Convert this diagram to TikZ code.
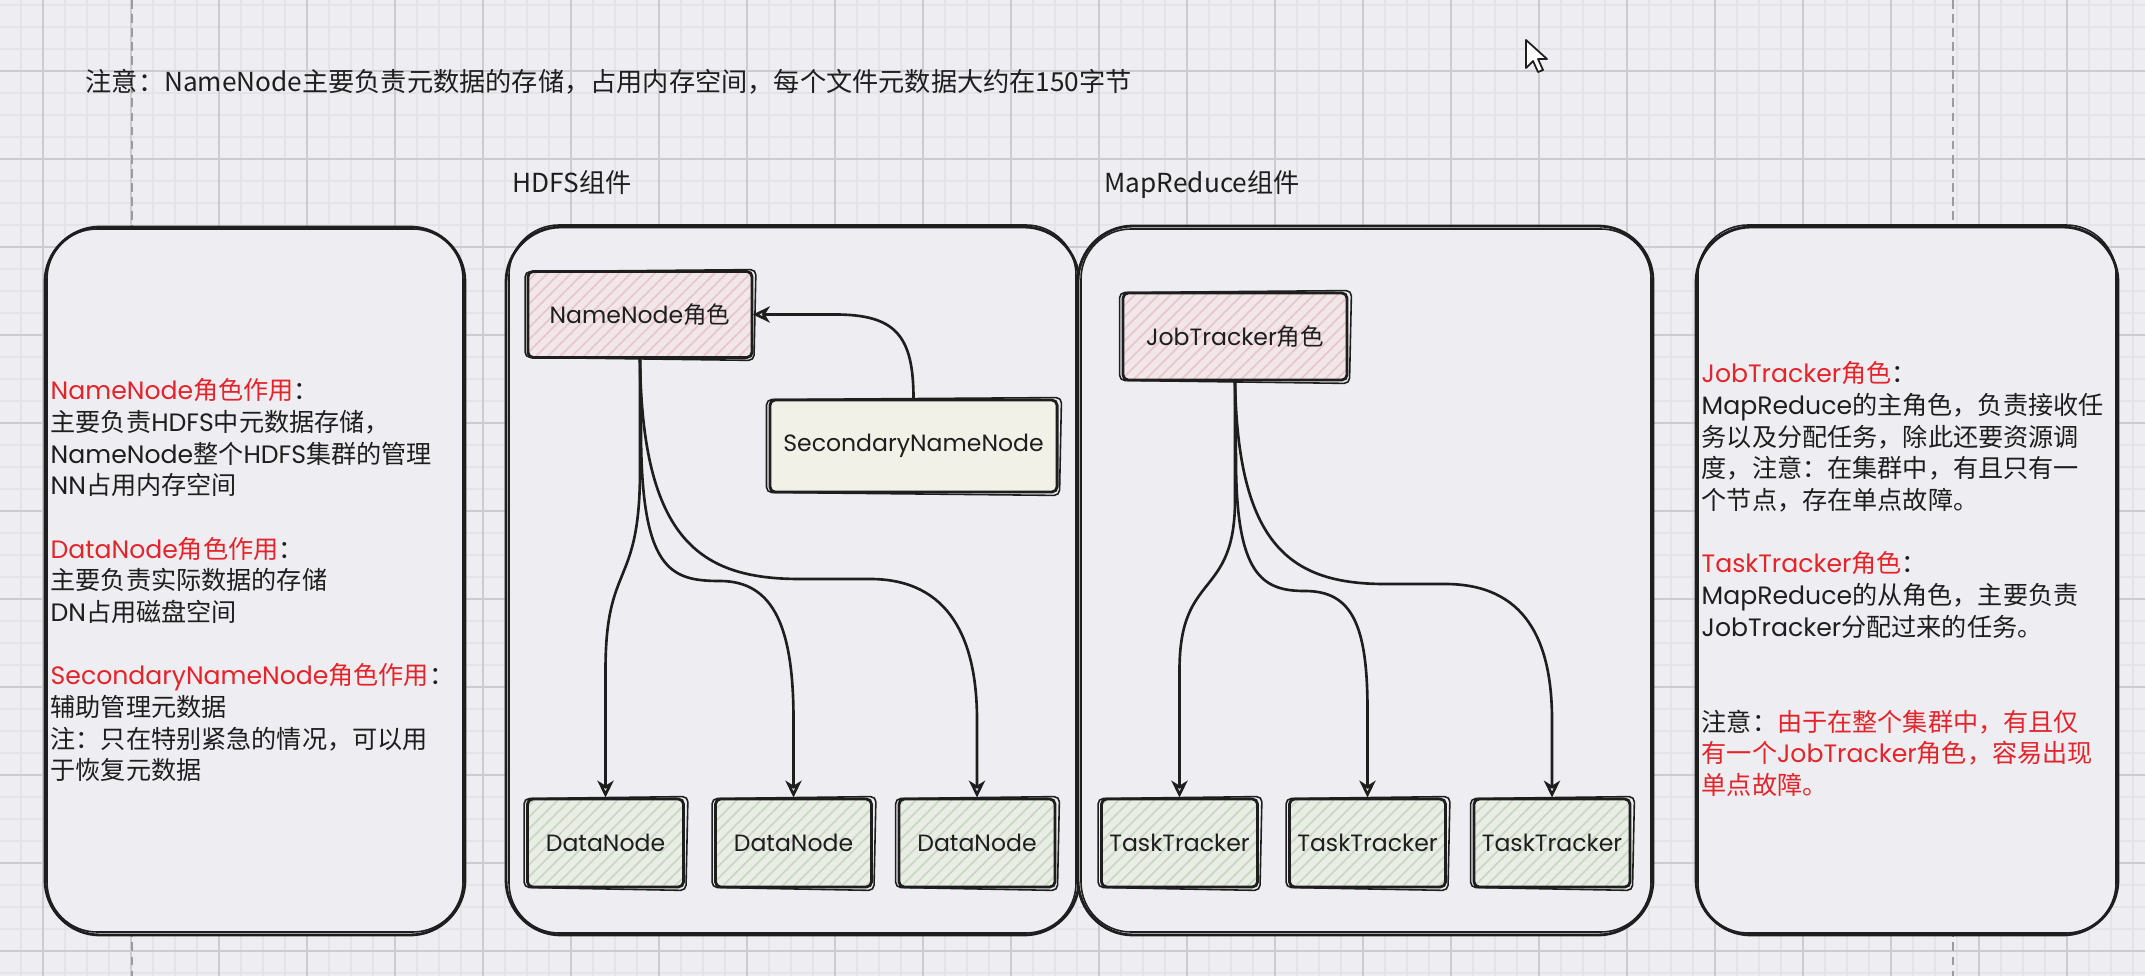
\documentclass[tikz,border=0pt]{standalone}
\usepackage{fontspec}
\setmainfont{Noto Sans CJK SC}
\newfontfamily\pop{Poppins}
\newfontfamily\cjk{Noto Sans CJK SC}
\usetikzlibrary{arrows.meta,patterns.meta,calc}
\definecolor{bg}{HTML}{EEEDF1}
\definecolor{gridminor}{HTML}{E4E3E7}
\definecolor{gridmajor}{HTML}{CCCBD0}
\definecolor{pagedash}{HTML}{9C9BA0}
\definecolor{ink}{HTML}{1E1E1E}
\definecolor{redtxt}{HTML}{E3252B}
\definecolor{redbase}{HTML}{F1E7EA}
\definecolor{redhatch}{HTML}{E9C6CA}
\definecolor{grnbase}{HTML}{E9EDE6}
\definecolor{grnhatch}{HTML}{C7D9C1}
\definecolor{yelbase}{HTML}{F1F1E8}
\newcommand\la[1]{{\pop #1}}
\newcommand\rd[1]{{\color{redtxt}#1}}
\newcommand\sketchbox[1]{\draw[line width=0.45pt, ink, rounded corners=1.5pt]
  ($(#1.north west)+(-2,1)$) -- ($(#1.north east)+(3,-1)$) -- ($(#1.south east)+(1,2)$) -- ($(#1.south west)+(-2,-1)$) -- cycle;}
\begin{document}
\begin{tikzpicture}[x=0.01cm, y=-0.01cm,
  panel/.style={draw=ink, line width=0.8pt, fill=bg, rounded corners=0.55cm},
  panel2/.style={draw=ink, line width=0.45pt, rounded corners=0.5cm},
  basebox/.style={draw=ink, line width=0.8pt, rounded corners=1.5pt, inner sep=0pt,
    font=\fontsize{6.7pt}{8pt}\pop, text=ink},
  redbox/.style={basebox, preaction={fill=redbase}, pattern={Lines[angle=45,distance=2.4pt,line width=0.5pt]}, pattern color=redhatch},
  grnbox/.style={basebox, preaction={fill=grnbase}, pattern={Lines[angle=45,distance=2.4pt,line width=0.5pt]}, pattern color=grnhatch, minimum width=1.56cm, minimum height=0.88cm},
  yelbox/.style={basebox, fill=yelbase},
  ptxt/.style={anchor=north west, inner sep=0pt, align=left, text=ink, font=\fontsize{7.15pt}{9pt}\selectfont},
  head/.style={anchor=base west, inner sep=0pt, text=ink, font=\fontsize{7.45pt}{9pt}\selectfont},
  conn/.style={draw=ink, line width=0.75pt, -{Stealth[open, length=4.8pt, width=4.6pt, inset=1.4pt]}}
]
\useasboundingbox (0,0) rectangle (2145,976);
% background and grid
\fill[bg] (0,0) rectangle (2145,976);
\foreach \x in {21,43,...,2145} \draw[gridminor, line width=0.3pt] (\x,0) -- (\x,976);
\foreach \y in {5,27,...,976} \draw[gridminor, line width=0.3pt] (0,\y) -- (2145,\y);
\foreach \x in {43,131,...,2145} \draw[gridmajor, line width=0.45pt] (\x,0) -- (\x,976);
\foreach \y in {71,159,...,976} \draw[gridmajor, line width=0.45pt] (0,\y) -- (2145,\y);
\draw[pagedash, line width=0.5pt, dash pattern=on 2.5pt off 1.5pt] (132,0) -- (132,976);
\draw[pagedash, line width=0.5pt, dash pattern=on 2.5pt off 1.5pt] (1953,0) -- (1953,976);
% mouse cursor
\draw[ink, line width=0.5pt, fill=white, line join=round] (1526,40) -- (1526,68) -- (1533,61) -- (1538,72) -- (1543,70) -- (1538,59) -- (1547,59) -- cycle;
% panels
\draw[panel] (45,227) rectangle (465,935);
\draw[panel2] (47,229) rectangle (463,932);
\draw[panel] (506,227) rectangle (1079,935);
\draw[panel2] (509,225) rectangle (1076,933);
\draw[panel] (1078,226) rectangle (1653,935);
\draw[panel2] (1081,229) rectangle (1651,932);
\draw[panel] (1696,227) rectangle (2118,935);
\draw[panel2] (1698,225) rectangle (2116,933);
% title and headers
\node[head] (title) at (85,92) {注意：NameNode主要负责元数据的存储，占用内存空间，每个文件元数据大约在150字节};
\node[head] (hdfs) at (512,193) {HDFS组件};
\node[head] (mr) at (1104,193) {MapReduce组件};
% left panel text
\node[ptxt] (lefttxt) at (50,378) {%
\rd{\la{NameNode}角色作用}：\\
主要负责\la{HDFS}中元数据存储，\\
\la{NameNode}整个\la{HDFS}集群的管理\\
\la{NN}占用内存空间\\[9pt]
\rd{\la{DataNode}角色作用}：\\
主要负责实际数据的存储\\
\la{DN}占用磁盘空间\\[9pt]
\rd{\la{SecondaryNameNode}角色作用}：\\
辅助管理元数据\\
注：只在特别紧急的情况，可以用\\
于恢复元数据};
% right panel text
\node[ptxt] (righttxt) at (1701,361) {%
\rd{\la{JobTracker}角色}：\\
\la{MapReduce}的主角色，负责接收任\\
务以及分配任务，除此还要资源调\\
度，注意：在集群中，有且只有一\\
个节点，存在单点故障。\\[9pt]
\rd{\la{TaskTracker}角色}：\\
\la{MapReduce}的从角色，主要负责\\
\la{JobTracker}分配过来的任务。\\[18pt]
注意：\rd{由于在整个集群中，有且仅}\\
\rd{有一个\la{JobTracker}角色，容易出现}\\
\rd{单点故障。}};
% HDFS nodes
\node[redbox, minimum width=2.24cm, minimum height=0.86cm] (nn) at (640,314.5) {NameNode{\cjk 角色}};
\sketchbox{nn}
\node[yelbox, minimum width=2.87cm, minimum height=0.92cm] (snn) at (913.5,446) {SecondaryNameNode};
\sketchbox{snn}
\node[grnbox] (dn1) at (605.5,843) {DataNode};
\sketchbox{dn1}
\node[grnbox] (dn2) at (793.5,843) {DataNode};
\sketchbox{dn2}
\node[grnbox] (dn3) at (977,843) {DataNode};
\sketchbox{dn3}
% MapReduce nodes
\node[redbox, minimum width=2.24cm, minimum height=0.87cm] (jt) at (1235,336.5) {JobTracker{\cjk 角色}};
\sketchbox{jt}
\node[grnbox] (tt1) at (1179.5,843) {TaskTracker};
\sketchbox{tt1}
\node[grnbox] (tt2) at (1367.5,843) {TaskTracker};
\sketchbox{tt2}
\node[grnbox] (tt3) at (1552,843) {TaskTracker};
\sketchbox{tt3}
% connectors
\draw[conn] (snn.north) .. controls (913.5,335) and (895,314.5) .. (835,314.5) -- (nn.east);
\draw[conn] (nn.south) -- (640,470) .. controls (640,590) and (605.5,560) .. (605.5,670) -- (dn1.north);
\draw[conn] (nn.south) -- (641,430) .. controls (641,570) and (670,581) .. (720,581) .. controls (775,581) and (793.5,630) .. (793.5,720) -- (dn2.north);
\draw[conn] (nn.south) .. controls (642,540) and (700,579) .. (800,579) -- (870,579) .. controls (950,579) and (977,640) .. (977,720) -- (dn3.north);
\draw[conn] (jt.south) -- (1235,500) .. controls (1235,600) and (1179.5,570) .. (1179.5,670) -- (tt1.north);
\draw[conn] (jt.south) -- (1236,460) .. controls (1236,575) and (1262,591) .. (1305,591) .. controls (1352,591) and (1367.5,625) .. (1367.5,710) -- (tt2.north);
\draw[conn] (jt.south) .. controls (1238,545) and (1290,584) .. (1385,584) -- (1445,584) .. controls (1525,584) and (1552,640) .. (1552,720) -- (tt3.north);
\end{tikzpicture}
\end{document}
